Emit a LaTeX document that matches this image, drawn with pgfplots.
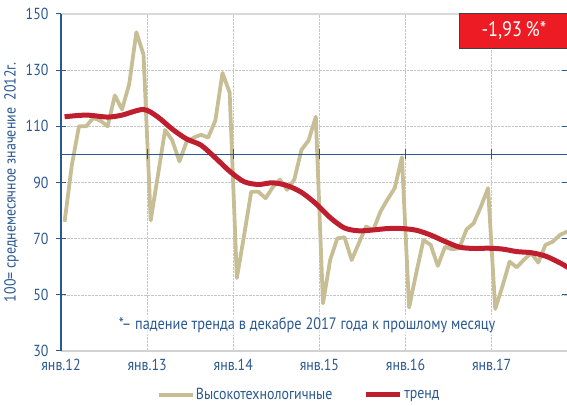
\documentclass[border=0pt]{standalone}
\usepackage{pgfplots}
\pgfplotsset{compat=1.18}
\usepackage{fontspec}
\setmainfont{PT Sans}[FakeStretch=0.87]
\definecolor{axblue}{RGB}{42,88,145}
\definecolor{beige}{RGB}{200,190,150}
\definecolor{trendred}{RGB}{190,30,45}
\definecolor{boxred}{RGB}{237,28,36}
\newcommand{\fs}{\fontsize{16}{17}\selectfont}

\begin{document}
\begin{tikzpicture}
\begin{axis}[
    name=ax,
    scale only axis,
    width=506pt, height=337pt,
    xmin=-0.5, xmax=70,
    ymin=30, ymax=150,
    axis line style={draw=none},
    ytick={30,50,...,150},
    xtick={-0.5,11.5,23.5,35.5,47.5,59.5},
    xticklabels={янв.12,янв.13,янв.14,янв.15,янв.16,янв.17},
    grid=major,
    grid style={densely dotted, gray!45, line width=0.6pt},
    ytick style={draw=axblue, line width=1pt},
    xtick style={draw=none},
    tick align=center,
    major tick length=10pt,
    tick label style={font=\fs, text=axblue},
    yticklabel style={xshift=-4pt},
    /pgf/number format/assume math mode=true,
    ylabel={100= среднемесячное значение\ \ 2012г.},
    ylabel style={font=\fs, text=axblue},
    clip mode=individual,
    legend columns=2,
    legend style={draw=none, fill=none, at={(0.47,-0.13)}, anchor=center,
        font=\fs, text=axblue, nodes={inner sep=1.5pt},
        /tikz/every even column/.append style={column sep=30pt}},
    legend image code/.code={\draw[#1] (0pt,0pt) -- (34pt,0pt);},
]
% рамка
\draw[gray!35, line width=1.5pt] (rel axis cs:0,0) -- (rel axis cs:1,0);
\draw[gray!30, line width=1.2pt] (rel axis cs:0,1) -- (rel axis cs:1,1);
\draw[axblue, line width=1.2pt] (rel axis cs:0,0) -- (rel axis cs:0,1);

\addplot[beige, line width=3.8pt, line join=round] coordinates {
 (0,76) (1,96) (2,110) (3,110) (4,113) (5,112) (6,110) (7,121) (8,116) (9,125) (10,143.5) (11,135.5)
 (12,76.5) (13,92.5) (14,108.7) (15,105) (16,97.5) (17,104.5) (18,106) (19,107) (20,106) (21,112) (22,129) (23,122)
 (24,56) (25,71) (26,86.7) (27,86.7) (28,84.4) (29,88.3) (30,91) (31,87.4) (32,91) (33,101.6) (34,105) (35,113.4)
 (36,47) (37,62.4) (38,70.1) (39,70.5) (40,62.4) (41,68.4) (42,74.3) (43,73) (44,79.6) (45,84) (46,88) (47,99)
 (48,45.5) (49,57.8) (50,69.5) (51,67.8) (52,60.3) (53,67.1) (54,66.2) (55,66.6) (56,73.3) (57,75.5) (58,81.4) (59,88)
 (60,45) (61,53) (62,61.8) (63,59.8) (64,62.5) (65,64.8) (66,61.5) (67,67.8) (68,68.9) (69,71.3) (70,72.5) (71,73)
};
\addlegendentry{Высокотехнологичные}

\addplot[axblue, line width=1.2pt, forget plot] coordinates {(-0.9,100) (71,100)};
\draw[axblue, line width=1pt] (axis cs:11.5,98.2) -- (axis cs:11.5,101.8);
\draw[axblue, line width=1pt] (axis cs:23.5,98.2) -- (axis cs:23.5,101.8);
\draw[axblue, line width=1pt] (axis cs:35.5,98.2) -- (axis cs:35.5,101.8);
\draw[axblue, line width=1pt] (axis cs:47.5,98.2) -- (axis cs:47.5,101.8);
\draw[axblue, line width=1pt] (axis cs:59.5,98.2) -- (axis cs:59.5,101.8);

\addplot[trendred, line width=5pt, smooth] coordinates {
 (0,113.4) (3,114) (6,113.3) (8,114) (11,116) (13,113.3) (15,109) (17,105.5) (19,103.3) (21,98.8) (23,94)
 (25,90.3) (27,89.3) (29,89.9) (31,88.9) (33,86.5) (35,82.5) (37,77.5) (39,73.8) (41,72.8) (43,73.1) (45,73.6)
 (47,73.6) (49,73) (51,71.3) (53,69) (55,67) (57,66.5) (59,66.6) (61,66.3) (63,65.4) (65,65) (67,63.8) (69,61.4) (71,58.5)
};
\addlegendentry{тренд}

\node[fill=white, fill opacity=0.6, text opacity=1, text=axblue, font=\fontsize{16.5}{17}\selectfont, inner sep=2pt]
  at (axis cs:33.8,39.3) {*– падение тренда в декабре 2017 года к прошлому месяцу};

\draw[fill=boxred, draw=black!75, line width=0.8pt] (rel axis cs:0.787,0.899) rectangle (rel axis cs:1.01,1.003);
\node[text=white, font=\fontsize{21}{21}\selectfont] at (rel axis cs:0.895,0.95) {-1,93\,\%*};
\end{axis}
\pgfresetboundingbox
\path[use as bounding box] ([xshift=-61pt,yshift=-55pt]ax.south west) rectangle ([yshift=14pt]ax.north east);
\end{tikzpicture}
\end{document}
